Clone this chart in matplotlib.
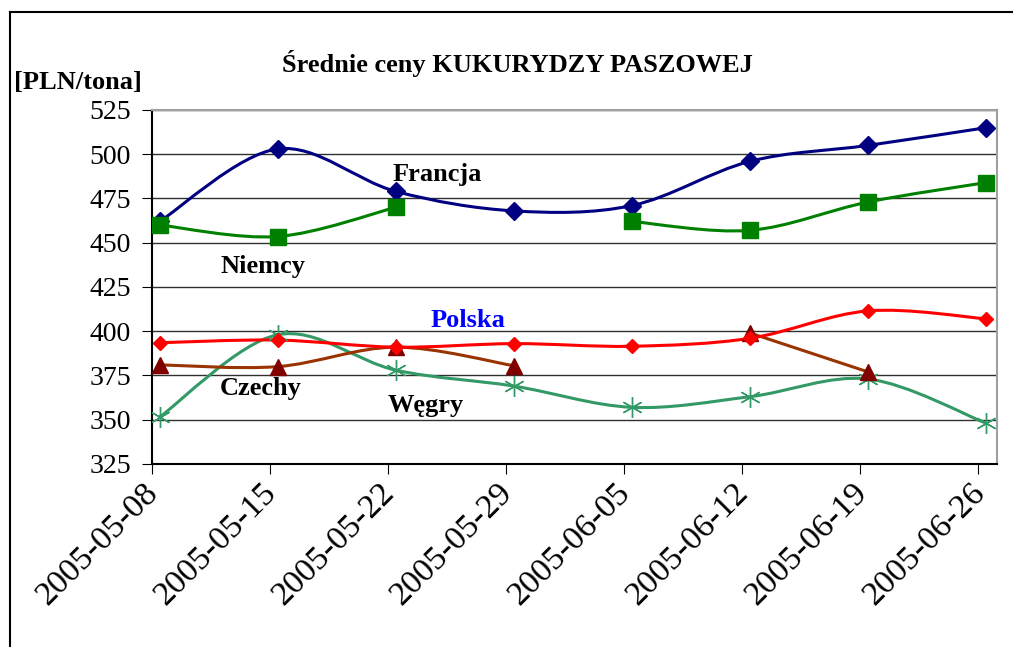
import matplotlib
matplotlib.use("Agg")
import matplotlib.pyplot as plt
import matplotlib.transforms as mtransforms
from matplotlib.path import Path
from matplotlib.patches import PathPatch
from matplotlib.lines import Line2D
import numpy as np

# dane
daty = ["2005-05-08", "2005-05-15", "2005-05-22", "2005-05-29",
        "2005-06-05", "2005-06-12", "2005-06-19", "2005-06-26"]
francja = [462, 503, 479, 468, 471, 496, 505, 515]
niemcy = [460, 453.5, 470, np.nan, 462, 457, 473, 484]
polska = [393.5, 395, 391, 393, 391.5, 396, 411.5, 407]
czechy = [381, 380, 391, 380.5, np.nan, 399, 377, np.nan]
wegry = [351.5, 398, 378, 369, 357, 363, 373, 348]

plt.rcParams['font.family'] = ['Liberation Serif', 'DejaVu Serif']

fig = plt.figure(figsize=(10.13, 6.47), dpi=100)
ax = fig.add_axes([0.150, 0.2829, 0.834, 0.5471])


def gladka(ax, x, y, kolor, lw):
    # wygładzona linia (jak w Excelu) - krzywe Beziera przez punkty
    x = np.asarray(x, float)
    y = np.asarray(y, float)
    ok = ~np.isnan(y)
    segs = []
    cur = []
    for i in range(len(x)):
        if ok[i]:
            cur.append(i)
        else:
            if cur:
                segs.append(cur)
            cur = []
    if cur:
        segs.append(cur)
    for s in segs:
        if len(s) < 2:
            continue
        px = x[s]
        py = y[s]
        verts = [(px[0], py[0])]
        codes = [Path.MOVETO]
        n = len(px)
        for i in range(n - 1):
            i0 = max(i - 1, 0)
            i3 = min(i + 2, n - 1)
            c1 = (px[i] + (px[i + 1] - px[i0]) / 6, py[i] + (py[i + 1] - py[i0]) / 6)
            c2 = (px[i + 1] - (px[i3] - px[i]) / 6, py[i + 1] - (py[i3] - py[i]) / 6)
            verts += [c1, c2, (px[i + 1], py[i + 1])]
            codes += [Path.CURVE4] * 3
        ax.add_patch(PathPatch(Path(verts, codes), fill=False, edgecolor=kolor,
                               lw=lw, capstyle='round', joinstyle='round', zorder=3))


x = np.arange(len(daty))

gladka(ax, x, francja, "#000080", 2.2)
gladka(ax, x, niemcy, "#008000", 2.2)
gladka(ax, x, wegry, "#339966", 2.2)
gladka(ax, x, czechy, "#993300", 2.2)
gladka(ax, x, polska, "#FF0000", 2.2)

ax.plot(x, francja, 'D', color="#000080", markersize=8.8, zorder=4)
ax.plot(x, niemcy, 's', color="#008000", markersize=11, zorder=4)
ax.plot(x, wegry, marker=(6, 2, 0), linestyle='none', color="#339966",
        markersize=15, markeredgewidth=1.0, zorder=4)
ax.plot(x, czechy, '^', color="#800000", markersize=11, zorder=4)
ax.plot(x, polska, 'D', color="#FF0000", markersize=7.5, zorder=5)

ax.set_xlim(-0.065, 7.09)
ax.set_ylim(325, 525)
ax.set_yticks(np.arange(325, 526, 25))
# znaczniki osi X lekko przed punktami, jak w oryginale
ax.set_xticks(x - 0.065)
ax.set_xticklabels(daty, rotation=45, ha='right', va='top', rotation_mode='anchor')
ax.tick_params(axis='both', direction='out', length=7, color='black')
ax.tick_params(axis='x', labelsize=24.5, pad=3)
ax.tick_params(axis='y', labelsize=20, pad=8)
przes = mtransforms.ScaledTranslation(-0.09, 0, fig.dpi_scale_trans)
for lab in ax.get_xticklabels():
    lab.set_transform(lab.get_transform() + przes)
ax.yaxis.grid(True, color='#303030', lw=1.0)
ax.set_axisbelow(True)
for s in ['left', 'bottom']:
    ax.spines[s].set_color('black')
    ax.spines[s].set_linewidth(1.5)
for s in ['top', 'right']:
    ax.spines[s].set_color('#a0a0a0')
    ax.spines[s].set_linewidth(1.5)

# podpisy serii
opis = dict(fontsize=19, fontweight='bold', va='center', ha='left')
ax.text(1.976, 488.3, "Francja", color='black', **opis)
ax.text(0.519, 436.3, "Niemcy", color='black', **opis)
ax.text(2.297, 405.8, "Polska", color='#0000FF', **opis)
ax.text(0.511, 367.9, "Czechy", color='black', **opis)
ax.text(1.933, 358.3, "Węgry", color='black', **opis)

fig.text(0.511, 0.902, "Średnie ceny KUKURYDZY PASZOWEJ", fontsize=19,
         fontweight='bold', ha='center', va='center')
fig.text(0.077, 0.872, "[PLN/tona]", fontsize=19, fontweight='bold',
         ha='center', va='center')

# ramka wykresu
fig.add_artist(Line2D([0.0099, 1.0], [0.9815, 0.9815], color='black', lw=1.5))
fig.add_artist(Line2D([0.0099, 0.0099], [0.0, 0.9815], color='black', lw=1.5))

fig.savefig("out.png", dpi=100)
plt.close()
